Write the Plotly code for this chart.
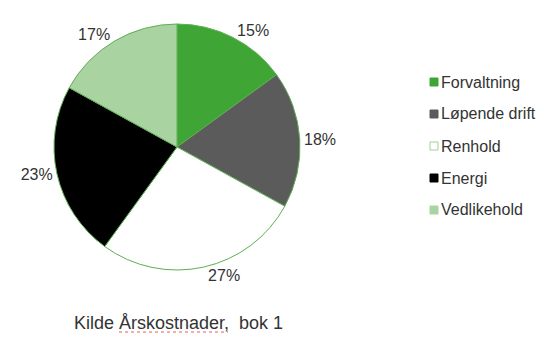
import plotly.graph_objects as go

# Annual cost breakdown by category
categories = ["Forvaltning", "Løpende drift", "Renhold", "Energi", "Vedlikehold"]
shares = [15, 18, 27, 23, 17]
colors = ["#3fa535", "#5b5b5b", "#ffffff", "#000000", "#a9d3a1"]
swatch_edges = ["#3fa535", "#5b5b5b", "#9fcf96", "#000000", "#a9d3a1"]
caption = "Kilde Årskostnader,  bok 1"

W, H = 544, 338
cx, cy, r = 177, 147, 123
FONT = "Liberation Sans, Arial, sans-serif"
TXT = "#333333"

fig = go.Figure()
fig.add_trace(go.Pie(
    labels=categories,
    values=shares,
    sort=False,
    direction="clockwise",
    rotation=0,
    marker=dict(colors=colors, line=dict(color="#5fae55", width=1)),
    texttemplate="%{percent:.0%}",
    textposition="outside",
    textfont=dict(family=FONT, size=16, color=TXT),
    showlegend=False,
    hoverinfo="label+percent",
    domain=dict(x=[(cx - r) / W, (cx + r) / W],
                y=[1 - (cy + r) / H, 1 - (cy - r) / H]),
))

# Legend on the right: small square swatch followed by the category name
leg_x, leg_y0, leg_step, sw = 430, 82, 32, 8
for i, (name, col, edge) in enumerate(zip(categories, colors, swatch_edges)):
    yc = leg_y0 + i * leg_step
    fig.add_shape(
        type="rect", xref="paper", yref="paper",
        x0=leg_x / W, x1=(leg_x + sw) / W,
        y0=1 - (yc + sw / 2) / H, y1=1 - (yc - sw / 2) / H,
        fillcolor=col, line=dict(color=edge, width=1),
    )
    fig.add_annotation(
        x=(leg_x + sw + 1) / W, y=1 - yc / H, xref="paper", yref="paper",
        xanchor="left", yanchor="middle", text=name, showarrow=False,
        font=dict(family=FONT, size=16, color=TXT),
    )

# Source caption under the pie
fig.add_annotation(
    x=178.5 / W, y=1 - 323 / H, xref="paper", yref="paper",
    xanchor="center", yanchor="middle",
    text=caption, showarrow=False,
    font=dict(family=FONT, size=18, color=TXT),
)
# Spell-check squiggle under the second word of the caption
fig.add_shape(
    type="line", xref="paper", yref="paper",
    x0=119 / W, x1=228 / W, y0=1 - 332 / H, y1=1 - 332 / H,
    line=dict(color="#e06060", width=1, dash="dot"),
)

fig.update_layout(
    width=W, height=H,
    margin=dict(l=0, r=0, t=0, b=0),
    paper_bgcolor="white", plot_bgcolor="white",
)

fig.write_html("out.html")
